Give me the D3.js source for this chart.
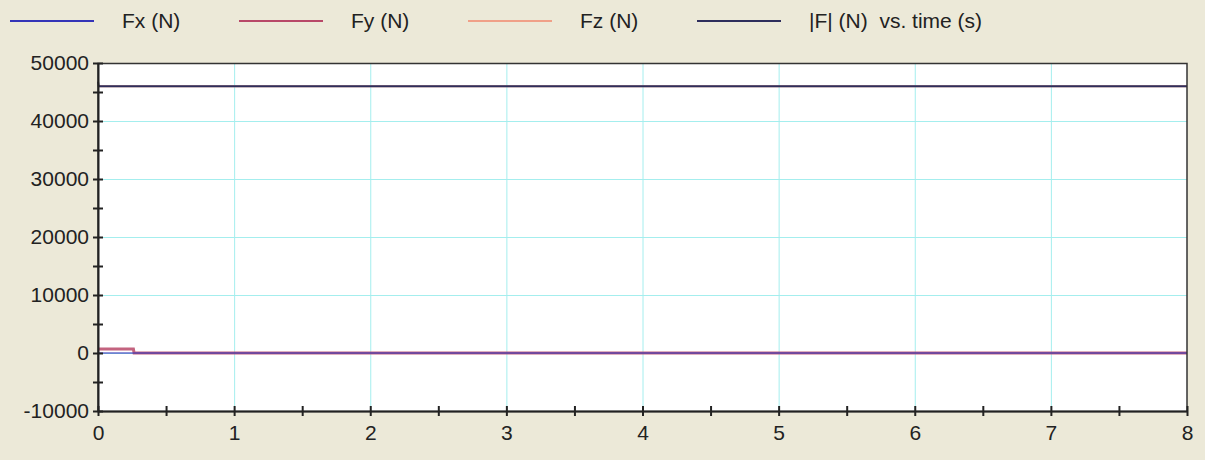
<!DOCTYPE html>
<html>
<head>
<meta charset="utf-8">
<script src="https://cdn.jsdelivr.net/npm/d3@7/dist/d3.min.js"></script>
<style>
  body { margin: 0; background: #ece9d8; }
  svg { display: block; font-family: "Liberation Sans", Arial, sans-serif; }
</style>
</head>
<body>
<script>
// data
let time = [0, 0.005, 0.26, 0.265, 8];
let fx = [0, 0, 0, 0, 0];
let fy = [700, 700, 700, 0, 0];
let fz = [46000, 46000, 46000, 46000, 46000];
let fmag = [46800, 46000, 46000, 46000, 46000];

let legendNames = ["Fx (N)", "Fy (N)", "Fz (N)", "|F| (N)  vs. time (s)"];
let colors = ["#3434b8", "#b84868", "#f0a088", "#2e2e5c"];

let width = 1205, height = 460;
let margin = {left: 98, right: 18, top: 63, bottom: 49};

let svg = d3.select("body").append("svg")
    .attr("width", width)
    .attr("height", height);

let x = d3.scaleLinear().domain([0, 8]).range([margin.left, width - margin.right]);
let y = d3.scaleLinear().domain([-10000, 50000]).range([height - margin.bottom, margin.top]);

// plot background
svg.append("rect")
    .attr("x", x(0)).attr("y", y(50000))
    .attr("width", x(8) - x(0)).attr("height", y(-10000) - y(50000))
    .attr("fill", "#ffffff");

// grid
let grid = svg.append("g").attr("stroke", "#a4eeee").attr("stroke-width", 1);
grid.selectAll(".gx").data(d3.range(1, 8))
  .enter().append("line")
    .attr("x1", d => x(d) + 0.5).attr("x2", d => x(d) + 0.5)
    .attr("y1", y(50000)).attr("y2", y(-10000));
grid.selectAll(".gy").data(d3.range(0, 50000, 10000))
  .enter().append("line")
    .attr("x1", x(0)).attr("x2", x(8))
    .attr("y1", d => y(d) + 0.5).attr("y2", d => y(d) + 0.5);

// series (Fz sits under |F|, blue over red gives the purple band)
let series = [fx, fy, fz, fmag];
let line = d3.line().x((d, i) => x(time[i])).y(d => y(d));
let styles = [
  {k: 2, w: 2, op: 1},
  {k: 1, w: 3, op: 0.85},
  {k: 0, w: 2, op: 0.55},
  {k: 3, w: 2, op: 1}
];
styles.forEach(s => {
  svg.append("path")
    .datum(series[s.k])
    .attr("d", line)
    .attr("fill", "none")
    .attr("stroke", colors[s.k])
    .attr("stroke-opacity", s.op)
    .attr("stroke-width", s.w);
});

// frame
svg.append("rect")
    .attr("x", x(0)).attr("y", y(50000) + 0.5)
    .attr("width", x(8) - x(0)).attr("height", y(-10000) - y(50000))
    .attr("fill", "none").attr("stroke", "#333").attr("stroke-width", 1.5);

// axes
let xAxis = d3.axisBottom(x)
    .tickValues(d3.range(0, 8.01, 0.5))
    .tickSizeInner(6).tickSizeOuter(0)
    .tickFormat(d => Number.isInteger(d) ? d : "");
let gx = svg.append("g").attr("transform", `translate(0,${y(-10000)})`).call(xAxis);
let yAxis = d3.axisLeft(y)
    .tickValues(d3.range(-10000, 50001, 5000))
    .tickSizeInner(6).tickSizeOuter(0)
    .tickFormat(d => d % 10000 == 0 ? d : "");
let gy = svg.append("g").attr("transform", `translate(${x(0)},0)`).call(yAxis);

[gx, gy].forEach(g => {
  g.select(".domain").attr("stroke", "#222").attr("stroke-width", 2);
  g.selectAll(".tick line").attr("stroke", "#222").attr("stroke-width", 2);
  g.selectAll(".tick text").attr("fill", "#222").attr("font-size", 21)
    .attr("font-family", "Liberation Sans, Arial, sans-serif");
});
// ticks cross the axis
gx.selectAll(".tick line").attr("y1", -5).attr("y2", 5);
gx.selectAll(".tick text").attr("y", 14);
gy.selectAll(".tick line").attr("x1", -5).attr("x2", 5);
gy.selectAll(".tick text").attr("x", -9);

// legend: entries evenly spaced across the top
let legend = svg.append("g");
legendNames.forEach((name, i) => {
  let lx = 10 + i * 229;
  legend.append("line")
    .attr("x1", lx).attr("x2", lx + 84)
    .attr("y1", 21).attr("y2", 21)
    .attr("stroke", colors[i]).attr("stroke-width", 2);
  legend.append("text")
    .attr("x", lx + 112).attr("y", 28)
    .attr("font-size", 21)
    .attr("fill", "#222")
    .attr("xml:space", "preserve")
    .text(name);
});
</script>
</body>
</html>
